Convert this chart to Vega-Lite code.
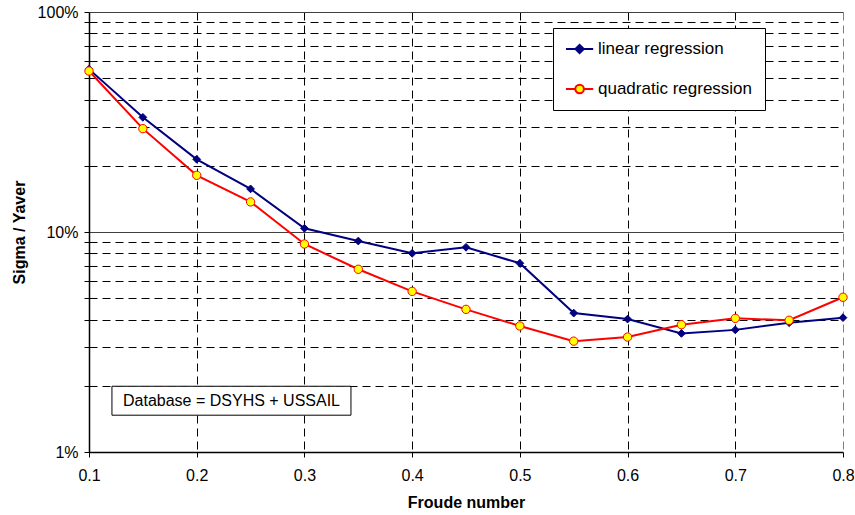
{
  "$schema": "https://vega.github.io/schema/vega-lite/v6.json",
  "width": 754,
  "height": 440,
  "autosize": {"type": "none"},
  "padding": {"left": 89, "top": 12, "right": 12, "bottom": 63},
  "background": "white",
  "config": {
    "font": "Liberation Sans",
    "view": {"stroke": null},
    "axis": {"labelFont": "Liberation Sans", "titleFont": "Liberation Sans", "labelColor": "black", "titleColor": "black"}
  },
  "datasets": {
    "main": [
      {"fr": 0.1, "series": "linear regression", "v": 0.55},
      {"fr": 0.15, "series": "linear regression", "v": 0.332},
      {"fr": 0.2, "series": "linear regression", "v": 0.214},
      {"fr": 0.25, "series": "linear regression", "v": 0.157},
      {"fr": 0.3, "series": "linear regression", "v": 0.104},
      {"fr": 0.35, "series": "linear regression", "v": 0.091},
      {"fr": 0.4, "series": "linear regression", "v": 0.080},
      {"fr": 0.45, "series": "linear regression", "v": 0.0852},
      {"fr": 0.5, "series": "linear regression", "v": 0.0721},
      {"fr": 0.55, "series": "linear regression", "v": 0.0428},
      {"fr": 0.6, "series": "linear regression", "v": 0.0402},
      {"fr": 0.65, "series": "linear regression", "v": 0.0346},
      {"fr": 0.7, "series": "linear regression", "v": 0.0359},
      {"fr": 0.75, "series": "linear regression", "v": 0.0387},
      {"fr": 0.8, "series": "linear regression", "v": 0.0408},
      {"fr": 0.1, "series": "quadratic regression", "v": 0.539},
      {"fr": 0.15, "series": "quadratic regression", "v": 0.295},
      {"fr": 0.2, "series": "quadratic regression", "v": 0.181},
      {"fr": 0.25, "series": "quadratic regression", "v": 0.137},
      {"fr": 0.3, "series": "quadratic regression", "v": 0.0882},
      {"fr": 0.35, "series": "quadratic regression", "v": 0.0677},
      {"fr": 0.4, "series": "quadratic regression", "v": 0.0537},
      {"fr": 0.45, "series": "quadratic regression", "v": 0.0445},
      {"fr": 0.5, "series": "quadratic regression", "v": 0.0374},
      {"fr": 0.55, "series": "quadratic regression", "v": 0.0319},
      {"fr": 0.6, "series": "quadratic regression", "v": 0.0333},
      {"fr": 0.65, "series": "quadratic regression", "v": 0.0379},
      {"fr": 0.7, "series": "quadratic regression", "v": 0.0405},
      {"fr": 0.75, "series": "quadratic regression", "v": 0.0397},
      {"fr": 0.8, "series": "quadratic regression", "v": 0.0505}
    ],
    "note": [
      {"x1": 0.1213, "x2": 0.3432, "y1": 0.0147, "y2": 0.0199, "xm": 0.2323, "ym": 0.0171, "label": "Database = DSYHS + USSAIL"}
    ]
  },
  "data": {"name": "main"},
  "encoding": {
    "x": {
      "field": "fr", "type": "quantitative",
      "scale": {"domain": [0.1, 0.8], "nice": false, "zero": false},
      "axis": {
        "values": [0.1, 0.2, 0.3, 0.4, 0.5, 0.6, 0.7, 0.8],
        "format": ".1f",
        "labelFlush": false,
        "title": "Froude number",
        "titleFontWeight": "bold", "titleFontSize": 16, "titlePadding": 11,
        "labelFontSize": 16, "labelPadding": 10,
        "domainColor": "black", "domainWidth": 1.5,
        "tickColor": "black", "tickSize": 5,
        "grid": true,
        "gridColor": {"condition": {"test": "datum.value > 0.75", "value": "#808080"}, "value": "black"},
        "gridDash": [8, 5],
        "gridWidth": 1,
        "gridOpacity": {"condition": {"test": "datum.value < 0.15", "value": 0}, "value": 1}
      }
    },
    "y": {
      "field": "v", "type": "quantitative",
      "scale": {"type": "log", "domain": [0.01, 1], "nice": false},
      "axis": {
        "values": [0.01, 0.02, 0.03, 0.04, 0.05, 0.06, 0.07, 0.08, 0.09, 0.1, 0.2, 0.3, 0.4, 0.5, 0.6, 0.7, 0.8, 0.9, 1],
        "labelExpr": "datum.value == 0.01 ? '1%' : datum.value == 0.1 ? '10%' : datum.value == 1 ? '100%' : ''",
        "labelFlush": false,
        "title": "Sigma / Yaver",
        "titleFontWeight": "bold", "titleFontSize": 16, "titlePadding": 10,
        "labelFontSize": 16, "labelPadding": 6,
        "domainColor": "black", "domainWidth": 1.5,
        "tickColor": "black", "tickSize": 5,
        "grid": true,
        "gridColor": {"condition": {"test": "datum.value == 0.1 || datum.value == 1", "value": "#404040"}, "value": "black"},
        "gridDash": {"condition": {"test": "datum.value == 0.1 || datum.value == 1", "value": []}, "value": [8, 5]},
        "gridWidth": 1,
        "gridOpacity": {"condition": {"test": "datum.value == 0.01", "value": 0}, "value": 1}
      }
    }
  },
  "layer": [
    {
      "data": {"name": "note"},
      "mark": {"type": "rect", "fill": "white", "stroke": "black", "strokeWidth": 1},
      "encoding": {
        "x": {"field": "x1", "type": "quantitative"},
        "x2": {"field": "x2"},
        "y": {"field": "y1", "type": "quantitative"},
        "y2": {"field": "y2"}
      }
    },
    {
      "data": {"name": "note"},
      "mark": {"type": "text", "fontSize": 16, "font": "Liberation Sans", "color": "black", "align": "center", "baseline": "middle"},
      "encoding": {
        "x": {"field": "xm", "type": "quantitative"},
        "y": {"field": "ym", "type": "quantitative"},
        "text": {"field": "label"}
      }
    },
    {
      "transform": [{"filter": "datum.series == 'linear regression'"}],
      "mark": {"type": "line", "color": "#000080", "strokeWidth": 2}
    },
    {
      "transform": [{"filter": "datum.series == 'quadratic regression'"}],
      "mark": {"type": "line", "color": "#FF0000", "strokeWidth": 2}
    },
    {
      "transform": [{"filter": "datum.series == 'linear regression'"}],
      "mark": {"type": "point", "shape": "diamond", "filled": true, "fill": "#000080", "stroke": "#000080", "strokeWidth": 1, "size": 60, "opacity": 1}
    },
    {
      "transform": [{"filter": "datum.series == 'quadratic regression'"}],
      "mark": {"type": "point", "shape": "circle", "filled": true, "fill": "#FFFF00", "stroke": "#FF0000", "strokeWidth": 1, "size": 70, "opacity": 1}
    },
    {
      "mark": {"type": "point", "opacity": 0, "filled": true},
      "encoding": {
        "shape": {
          "field": "series", "type": "nominal",
          "scale": {
            "domain": ["linear regression", "quadratic regression"],
            "range": [
              "M-1,0L0.18,0M1.22,0L2.4,0M0.18,0L0.7,-0.52L1.22,0L0.7,0.52Z",
              "M-1,0L0.16,0M1.24,0L2.4,0M0.16,0A0.54,0.54,0,1,1,1.24,0A0.54,0.54,0,1,1,0.16,0Z"
            ]
          },
          "legend": {
            "title": null, "orient": "none", "legendX": 464, "legendY": 16,
            "padding": 12, "strokeColor": "black", "fillColor": "white",
            "labelFont": "Liberation Sans", "labelFontSize": 17, "labelColor": "black",
            "symbolSize": 256, "symbolStrokeWidth": 2, "symbolOpacity": 1,
            "rowPadding": 22, "labelOffset": 15, "cornerRadius": 0
          }
        },
        "stroke": {
          "field": "series", "type": "nominal",
          "scale": {"domain": ["linear regression", "quadratic regression"], "range": ["#000080", "#FF0000"]},
          "legend": {
            "title": null, "orient": "none", "legendX": 464, "legendY": 16,
            "padding": 12, "strokeColor": "black", "fillColor": "white",
            "labelFont": "Liberation Sans", "labelFontSize": 17, "labelColor": "black",
            "symbolSize": 256, "symbolStrokeWidth": 2, "symbolOpacity": 1,
            "rowPadding": 22, "labelOffset": 15, "cornerRadius": 0
          }
        },
        "fill": {
          "field": "series", "type": "nominal",
          "scale": {"domain": ["linear regression", "quadratic regression"], "range": ["#000080", "#FFFF00"]},
          "legend": {
            "title": null, "orient": "none", "legendX": 464, "legendY": 16,
            "padding": 12, "strokeColor": "black", "fillColor": "white",
            "labelFont": "Liberation Sans", "labelFontSize": 17, "labelColor": "black",
            "symbolSize": 256, "symbolStrokeWidth": 2, "symbolOpacity": 1,
            "rowPadding": 22, "labelOffset": 15, "cornerRadius": 0
          }
        }
      }
    }
  ]
}
